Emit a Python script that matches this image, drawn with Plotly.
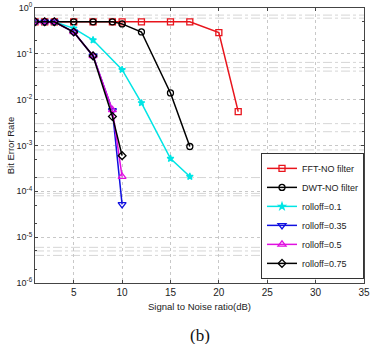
import plotly.graph_objects as go

# ---- data ----
snr_fft = [1, 2, 3, 5, 7, 9, 10, 12, 15, 17, 20, 22]
ber_fft = [0.5, 0.5, 0.5, 0.5, 0.5, 0.5, 0.5, 0.5, 0.5, 0.5, 0.29, 0.0055]

snr_dwt = [1, 2, 3, 5, 7, 9, 10, 12, 15, 17]
ber_dwt = [0.5, 0.5, 0.5, 0.5, 0.5, 0.5, 0.45, 0.3, 0.014, 0.00095]

snr_r01 = [1, 2, 3, 5, 7, 10, 12, 15, 17]
ber_r01 = [0.5, 0.5, 0.5, 0.36, 0.2, 0.045, 0.0085, 0.00052, 0.00021]

snr_r035 = [1, 2, 3, 5, 7, 9, 10]
ber_r035 = [0.5, 0.5, 0.5, 0.3, 0.09, 0.0058, 0.000052]

snr_r05 = [1, 2, 3, 5, 7, 9, 10]
ber_r05 = [0.5, 0.5, 0.5, 0.3, 0.09, 0.006, 0.00021]

snr_r075 = [1, 2, 3, 5, 7, 9, 10]
ber_r075 = [0.5, 0.5, 0.5, 0.3, 0.09, 0.0043, 0.0006]

x_ticks = [5, 10, 15, 20, 25, 30, 35]
y_tick_vals = [1, 1e-1, 1e-2, 1e-3, 1e-4, 1e-5, 1e-6]
y_tick_text = ["10<sup>0</sup>", "10<sup>-1</sup>", "10<sup>-2</sup>", "10<sup>-3</sup>",
               "10<sup>-4</sup>", "10<sup>-5</sup>", "10<sup>-6</sup>"]
extra_grid_levels = [0.7, 0.6, 0.065, 0.05, 0.042, 0.003, 0.002, 0.0008,
                     0.0002, 9e-5, 8e-5, 6e-6, 5e-6, 4e-6]

series = [
    ("FFT-NO filter", snr_fft, ber_fft, "#e8141c", "square-open", 6),
    ("DWT-NO filter", snr_dwt, ber_dwt, "#000000", "circle-open", 6),
    ("rolloff=0.1", snr_r01, ber_r01, "#00e5e5", "star", 5),
    ("rolloff=0.35", snr_r035, ber_r035, "#1010e0", "triangle-down-open", 7),
    ("rolloff=0.5", snr_r05, ber_r05, "#e010e0", "triangle-up-open", 7),
    ("rolloff=0.75", snr_r075, ber_r075, "#000000", "diamond-open", 6),
]

fig = go.Figure()
for name, xs, ys, col, sym, sz in series:
    fig.add_trace(go.Scatter(
        x=xs, y=ys, name=name, mode="lines+markers",
        line=dict(color=col, width=1.5),
        marker=dict(symbol=sym, size=sz, color=col, line=dict(color=col, width=1.3)),
    ))

for lv in extra_grid_levels:
    fig.add_shape(type="line", xref="paper", yref="y", x0=0, x1=1, y0=lv, y1=lv,
                  line=dict(color="#c4c4c4", width=0.7, dash="dashdot"), layer="below")

fig.update_layout(
    width=370, height=344,
    margin=dict(l=35, r=6, t=8, b=61),
    paper_bgcolor="white", plot_bgcolor="white",
    font=dict(family="Liberation Sans, Arial, sans-serif", size=9, color="#222"),
    showlegend=True,
    legend=dict(x=1.0, y=0.015, xanchor="right", yanchor="bottom",
                bgcolor="white", bordercolor="#333", borderwidth=1,
                font=dict(size=9), tracegroupgap=0, itemwidth=30),
    annotations=[
        dict(text="(b)", x=0.5, y=-0.19, xref="paper", yref="paper", yanchor="middle",
             showarrow=False, font=dict(family="Liberation Serif, Times New Roman, serif",
                                        size=17, color="#111")),
    ],
)
fig.update_xaxes(
    range=[1, 35], tickvals=x_ticks, ticks="inside", ticklen=3,
    showline=True, linecolor="#444", linewidth=1, mirror="ticks",
    showgrid=True, gridcolor="#c8c8c8", griddash="dot", gridwidth=1,
    zeroline=False, automargin=False, ticklabeloverflow="allow",
    title=dict(text="Signal to Noise ratio(dB)", font=dict(size=9.5), standoff=6),
    tickfont=dict(size=10),
)
fig.update_yaxes(
    type="log", range=[-6, 0], tickvals=y_tick_vals, ticktext=y_tick_text,
    ticks="inside", ticklen=3, automargin=False, ticklabeloverflow="allow",
    showline=True, linecolor="#444", linewidth=1, mirror="ticks",
    showgrid=True, gridcolor="#c8c8c8", griddash="dot", gridwidth=1,
    minor=dict(ticks="inside", ticklen=2, tickcolor="#444", showgrid=False),
    title=dict(text="Bit Error Rate", font=dict(size=9.5), standoff=0),
    tickfont=dict(size=9),
)

fig.write_html("out.html", config={"displayModeBar": False},
               post_script="document.body.style.margin='0';document.body.style.overflow='hidden';")
